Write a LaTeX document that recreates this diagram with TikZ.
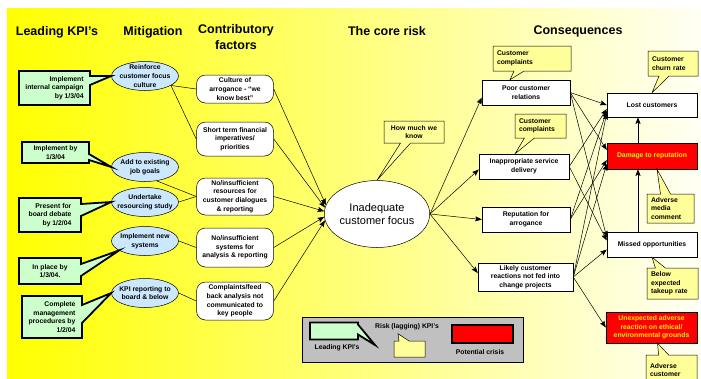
\documentclass[tikz,border=0pt]{standalone}
\usepackage{fontspec}
\setmainfont{Liberation Sans}
\usetikzlibrary{shapes.geometric,shapes.callouts,arrows.meta}
\definecolor{kpigreen}{HTML}{CCFFCC}
\definecolor{mitblue}{HTML}{CCE8FF}
\definecolor{notey}{HTML}{FFFF99}
\definecolor{crisis}{HTML}{FF0000}
\definecolor{legendgray}{HTML}{C0C0C0}
\newcommand{\smalltxt}{\bfseries\fontsize{6.8}{8.6}\selectfont}
\tikzset{
  head/.style={font=\bfseries\fontsize{12.5}{16.5}\selectfont, align=center},
  kpi/.style={rectangle callout, draw, line width=1.8pt, fill=kpigreen, font=\smalltxt, inner sep=0pt, align=right},
  mitig/.style={ellipse, draw, line width=0.5pt, fill=mitblue, font=\smalltxt, align=center, inner xsep=-6pt, inner ysep=0pt, minimum width=67pt, minimum height=29pt},
  factor/.style={draw, line width=0.5pt, fill=white, rounded corners=9pt, font=\smalltxt, align=center, minimum width=77pt, inner sep=0pt},
  conseq/.style={draw, line width=0.5pt, fill=white, font=\smalltxt, align=center, inner sep=0pt},
  crisisbox/.style={conseq, fill=crisis, text=yellow},
  note/.style={rectangle callout, draw, line width=0.5pt, fill=notey, font=\smalltxt, align=left, inner xsep=4pt, inner ysep=0pt, callout pointer width=10pt},
  arr/.style={-{Stealth[length=6.5pt,width=5pt,inset=1pt]}, line width=0.5pt},
  link/.style={line width=0.5pt},
}
\begin{document}
\begin{tikzpicture}[x=1pt,y=-1pt]
\useasboundingbox (0,0) rectangle (701,378);
% background
\fill[white] (0,0) rectangle (701,378);
\shade[left color=yellow, right color=yellow!4!white] (7,8) rectangle (701,378);

% column heads
\node[head] (hk) at (57,32) {Leading KPI’s};
\node[head] (hm) at (153,32) {Mitigation};
\node[head] (hc) at (236,37) {Contributory\\factors};
\node[head] (hr) at (387,31) {The core risk};
\node[head] (hq) at (578,31) {Consequences};

% mitigation
\node[mitig, inner ysep=-2.5pt] (m1) at (145,76) {Reinforce\\customer focus\\culture};
\node[mitig] (m2) at (145,167) {Add to existing\\job goals};
\node[mitig] (m3) at (145,202) {Undertake\\resourcing study};
\node[mitig] (m4) at (145,241) {Implement new\\systems};
\node[mitig] (m5) at (145,293) {KPI reporting to\\board \& below};

% leading KPI's
\node[kpi, minimum width=71pt, minimum height=34pt, callout absolute pointer={(m1.west)}, callout pointer width=9pt] (k1) at (54.5,88) {Implement\\internal campaign\\by 1/3/04};
\node[kpi, align=center, minimum width=67pt, minimum height=21pt, callout absolute pointer={(m2.west)}, callout pointer width=6pt] (k2) at (55.5,152.5) {Implement by\\1/3/04};
\node[kpi, minimum width=62pt, minimum height=34pt, callout absolute pointer={(m3.west)}, callout pointer width=12pt] (k3) at (50,215) {Present for\\board debate\\by 1/2/04};
\node[kpi, align=center, minimum width=62pt, minimum height=26pt, callout absolute pointer={(m4.200)}, callout pointer width=12pt] (k4) at (50,271) {In place by\\1/3/04.};
\node[kpi, minimum width=60pt, minimum height=42pt, callout absolute pointer={(m5.west)}, callout pointer width=18pt] (k5) at (52,317) {Complete\\management\\procedures by\\1/2/04};

% contributory factors
\node[factor, minimum height=28pt] (c1) at (235,89) {Culture of\\arrogance - “we\\know best”};
\node[factor, minimum height=34pt] (c2) at (235,139) {Short term financial\\imperatives/\\priorities};
\node[factor, minimum height=37pt] (c3) at (235,196.5) {No/insufficient\\resources for\\customer dialogues\\\& reporting};
\node[factor, minimum height=39pt] (c4) at (235,247.5) {No/insufficient\\systems for\\analysis \& reporting};
\node[factor, minimum height=38pt] (c5) at (235,301) {Complaints/feed\\back analysis not\\communicated to\\key people};

\draw[link] (m1.-20) -- (c1.west);
\draw[link] (m1.-20) -- (c2.west);
\draw[link] (m2.-50) -- (c3.west);
\draw[link] (m3.east) -- (c3.west);
\draw[link] (m4.east) -- (c4.west);
\draw[link] (m5.east) -- (c5.west);

% core risk
\node[ellipse, draw, line width=0.5pt, fill=white, inner sep=0pt, minimum width=104pt, minimum height=67pt, align=center, font=\fontsize{11}{12.5}\selectfont] (core) at (377,214) {Inadequate\\customer focus};
\node[note, align=center, text width=52pt, minimum height=22pt, callout absolute pointer={(core.north)}] (y1) at (414,132) {How much we\\know};

\draw[arr] (c1.east) -- (core.170);
\draw[arr] (c2.east) -- (core.173);
\draw[arr] (c3.east) -- (core.177);
\draw[arr] (c4.east) -- (core.183);
\draw[arr] (c5.east) -- (core.187);

% consequences
\node[conseq, minimum width=88pt, minimum height=25pt] (p1) at (526,92.5) {Poor customer\\relations};
\node[conseq, minimum width=90pt, minimum height=25pt] (p2) at (524,166.5) {Inappropriate service\\delivery};
\node[conseq, minimum width=88pt, minimum height=25pt] (p3) at (526,219.5) {Reputation for\\arrogance};
\node[conseq, minimum width=95pt, minimum height=28pt] (p4) at (525.5,277) {Likely customer\\reactions not fed into\\change projects};

\node[conseq, minimum width=90pt, minimum height=24pt] (l1) at (652,105) {Lost customers};
\node[crisisbox, minimum width=90pt, minimum height=26pt] (l2) at (652,156) {Damage to reputation};
\node[conseq, minimum width=90pt, minimum height=25pt] (l3) at (652,244.5) {Missed opportunities};
\node[crisisbox, minimum width=91pt, minimum height=31pt] (l4) at (651.5,327.5) {Unexpected adverse\\reaction on ethical/\\environmental grounds};

\node[note, text width=70pt, minimum height=25pt, callout absolute pointer={([xshift=-16pt]p1.north)}] (y2) at (532,58.5) {Customer\\complaints};
\node[note, text width=43pt, minimum height=24pt, callout absolute pointer={([xshift=-9pt]p2.north)}] (y3) at (540.5,126) {Customer\\complaints};
\node[note, text width=42pt, minimum height=25pt, callout absolute pointer={(l1.north)}] (y4) at (673,63.5) {Customer\\churn rate};
\node[note, text width=39pt, minimum height=29pt, callout absolute pointer={([xshift=5pt]l2.south)}] (y5) at (670.5,208.5) {Adverse\\media\\comment};
\node[note, text width=43pt, minimum height=31pt, callout absolute pointer={(l3.south)}] (y6) at (672.5,283.5) {Below\\expected\\takeup rate};
\node[note, text width=43pt, minimum height=30pt, callout absolute pointer={([xshift=6pt]l4.south)}] (y7) at (671.5,370) {Adverse\\customer};

\draw[arr] (core.east) -- ([yshift=-5pt]p1.west);
\draw[arr] (core.east) -- ([yshift=-3pt]p2.west);
\draw[arr] (core.east) -- (p3.west);
\draw[arr] (core.east) -- ([yshift=4pt]p4.west);

\draw[arr] (p1.east) -- (l1.west);
\draw[arr] (p1.east) -- ([yshift=6pt]l2.west);
\draw[arr] (p1.east) -- ([yshift=7pt]l3.west);
\draw[arr] (p2.east) -- ([yshift=-4pt]l1.west);
\draw[arr] (p2.east) -- ([yshift=4pt]l3.west);
\draw[arr] (p3.east) -- ([yshift=-6pt]l1.west);
\draw[arr] (p3.east) -- ([yshift=-4pt]l2.west);
\draw[arr] (p4.east) -- ([yshift=-8pt]l1.west);
\draw[arr] (p4.east) -- ([yshift=-8pt]l2.west);
\draw[arr] (p4.east) -- ([yshift=-5pt]l3.west);
\draw[arr] (p4.east) -- (l4.west);

\draw[arr, {Stealth[length=6.5pt,width=5pt,inset=1pt]}-] ([xshift=-14pt]l1.south) -- ([xshift=-14pt]l2.north);
\draw[arr, {Stealth[length=6.5pt,width=5pt,inset=1pt]}-] ([xshift=-14pt]l2.south) -- ([xshift=-14pt]l3.north);

% legend
\node[draw, line width=0.6pt, fill=legendgray, minimum width=221pt, minimum height=45pt] (lg) at (412.5,339.5) {};
\coordinate (lgtip) at (375,345);
\node[kpi, minimum width=48pt, minimum height=17pt, callout absolute pointer={(lgtip)}, callout pointer width=10pt] (lgk) at (334,331) {};
\node[font=\smalltxt] (lgkt) at (337,348) {Leading KPI’s};
\node[font=\smalltxt] (lgrt) at (407,327) {Risk (lagging) KPI’s};
\node[note, text width=23pt, minimum height=16pt, callout absolute pointer={([xshift=-9pt]lgrt.south)}] (lgr) at (409.5,349) {};
\node[crisisbox, line width=1.8pt, minimum width=61pt, minimum height=18pt] (lgc) at (482.5,334) {};
\node[font=\smalltxt] (lgct) at (480,352) {Potential crisis};
\end{tikzpicture}
\end{document}
